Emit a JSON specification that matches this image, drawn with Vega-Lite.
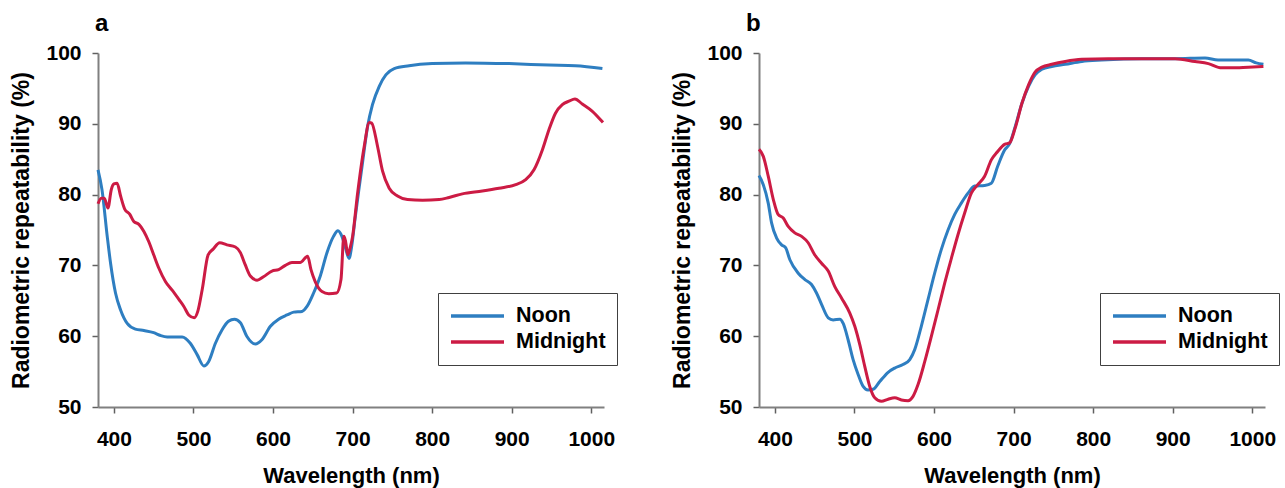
{
  "$schema": "https://vega.github.io/schema/vega-lite/v6.json",
  "background": "white",
  "padding": {"left": 10, "top": 12, "right": 5, "bottom": 5},
  "config": {
    "font": "Liberation Sans",
    "view": {"stroke": null},
    "axis": {
      "grid": false,
      "labelFont": "Liberation Sans",
      "labelFontSize": 21,
      "labelFontWeight": "bold",
      "labelColor": "black",
      "titleFont": "Liberation Sans",
      "titleFontSize": 22,
      "titleFontWeight": "bold",
      "titleColor": "black",
      "domainColor": "#808080",
      "domainWidth": 2,
      "tickColor": "#606060",
      "tickWidth": 1.5,
      "tickSize": 6
    },
    "axisX": {"labelPadding": 15, "titlePadding": 16, "format": "d"},
    "axisY": {"labelPadding": 11, "titlePadding": 12, "titleFontSize": 23},
    "legend": {
      "orient": "none",
      "legendX": 340,
      "legendY": 240,
      "title": null,
      "strokeColor": "#404040",
      "fillColor": "white",
      "padding": 11,
      "symbolType": "stroke",
      "symbolSize": 2809,
      "symbolStrokeWidth": 3.5,
      "clipHeight": 24,
      "rowPadding": 2,
      "labelFont": "Liberation Sans",
      "labelFontSize": 21.5,
      "labelFontWeight": "bold",
      "labelColor": "black",
      "labelOffset": 10
    }
  },
  "datasets": {
    "a": [
      {"series": "Noon", "wl": 380, "val": 83.5},
      {"series": "Noon", "wl": 385, "val": 80.7},
      {"series": "Noon", "wl": 391.6, "val": 74.1},
      {"series": "Noon", "wl": 395.8, "val": 70.3},
      {"series": "Noon", "wl": 402, "val": 66.1},
      {"series": "Noon", "wl": 408.4, "val": 63.7},
      {"series": "Noon", "wl": 416.7, "val": 61.8},
      {"series": "Noon", "wl": 427, "val": 61.0},
      {"series": "Noon", "wl": 437.7, "val": 60.8},
      {"series": "Noon", "wl": 450, "val": 60.5},
      {"series": "Noon", "wl": 458.6, "val": 60.1},
      {"series": "Noon", "wl": 467, "val": 59.9},
      {"series": "Noon", "wl": 485.8, "val": 59.9},
      {"series": "Noon", "wl": 496, "val": 59.0},
      {"series": "Noon", "wl": 504.6, "val": 57.4},
      {"series": "Noon", "wl": 513, "val": 55.8},
      {"series": "Noon", "wl": 519, "val": 56.4},
      {"series": "Noon", "wl": 527.6, "val": 59.0},
      {"series": "Noon", "wl": 536, "val": 60.9},
      {"series": "Noon", "wl": 544, "val": 62.1},
      {"series": "Noon", "wl": 551.5, "val": 62.4},
      {"series": "Noon", "wl": 559, "val": 61.9},
      {"series": "Noon", "wl": 567, "val": 60.0},
      {"series": "Noon", "wl": 577.8, "val": 58.9},
      {"series": "Noon", "wl": 586, "val": 59.5},
      {"series": "Noon", "wl": 596.7, "val": 61.4},
      {"series": "Noon", "wl": 607, "val": 62.4},
      {"series": "Noon", "wl": 617.6, "val": 63.0},
      {"series": "Noon", "wl": 626, "val": 63.4},
      {"series": "Noon", "wl": 636.4, "val": 63.5},
      {"series": "Noon", "wl": 642.7, "val": 64.2},
      {"series": "Noon", "wl": 651, "val": 66.1},
      {"series": "Noon", "wl": 659.4, "val": 68.5},
      {"series": "Noon", "wl": 667.8, "val": 71.8},
      {"series": "Noon", "wl": 676, "val": 74.1},
      {"series": "Noon", "wl": 681.6, "val": 74.9},
      {"series": "Noon", "wl": 686.6, "val": 74.1},
      {"series": "Noon", "wl": 691, "val": 72.5},
      {"series": "Noon", "wl": 695.5, "val": 71.0},
      {"series": "Noon", "wl": 699, "val": 72.8},
      {"series": "Noon", "wl": 703, "val": 76.5},
      {"series": "Noon", "wl": 708, "val": 80.8},
      {"series": "Noon", "wl": 712.6, "val": 84.6},
      {"series": "Noon", "wl": 718.8, "val": 89.6},
      {"series": "Noon", "wl": 725, "val": 92.7},
      {"series": "Noon", "wl": 733.5, "val": 95.3},
      {"series": "Noon", "wl": 741.8, "val": 96.9},
      {"series": "Noon", "wl": 752.3, "val": 97.8},
      {"series": "Noon", "wl": 771, "val": 98.2},
      {"series": "Noon", "wl": 800, "val": 98.5},
      {"series": "Noon", "wl": 842, "val": 98.6},
      {"series": "Noon", "wl": 896.7, "val": 98.5},
      {"series": "Noon", "wl": 946.9, "val": 98.3},
      {"series": "Noon", "wl": 980, "val": 98.2},
      {"series": "Noon", "wl": 1014, "val": 97.8},
      {"series": "Midnight", "wl": 380, "val": 78.7},
      {"series": "Midnight", "wl": 384, "val": 79.5},
      {"series": "Midnight", "wl": 388, "val": 79.5},
      {"series": "Midnight", "wl": 392.5, "val": 78.1},
      {"series": "Midnight", "wl": 396.7, "val": 80.7},
      {"series": "Midnight", "wl": 400, "val": 81.5},
      {"series": "Midnight", "wl": 404, "val": 81.6},
      {"series": "Midnight", "wl": 408.4, "val": 79.8},
      {"series": "Midnight", "wl": 413.4, "val": 78.0},
      {"series": "Midnight", "wl": 420, "val": 77.2},
      {"series": "Midnight", "wl": 425, "val": 76.2},
      {"series": "Midnight", "wl": 431.4, "val": 75.8},
      {"series": "Midnight", "wl": 437.7, "val": 74.8},
      {"series": "Midnight", "wl": 444, "val": 73.3},
      {"series": "Midnight", "wl": 450, "val": 71.5},
      {"series": "Midnight", "wl": 456.5, "val": 69.6},
      {"series": "Midnight", "wl": 464.9, "val": 67.7},
      {"series": "Midnight", "wl": 473.2, "val": 66.5},
      {"series": "Midnight", "wl": 481.6, "val": 65.2},
      {"series": "Midnight", "wl": 487.9, "val": 64.2},
      {"series": "Midnight", "wl": 494, "val": 63.0},
      {"series": "Midnight", "wl": 501, "val": 62.6},
      {"series": "Midnight", "wl": 505.4, "val": 63.5},
      {"series": "Midnight", "wl": 511, "val": 66.6},
      {"series": "Midnight", "wl": 518.4, "val": 71.5},
      {"series": "Midnight", "wl": 524.7, "val": 72.3},
      {"series": "Midnight", "wl": 533, "val": 73.2},
      {"series": "Midnight", "wl": 542, "val": 72.9},
      {"series": "Midnight", "wl": 552.7, "val": 72.6},
      {"series": "Midnight", "wl": 559, "val": 71.8},
      {"series": "Midnight", "wl": 565, "val": 70.1},
      {"series": "Midnight", "wl": 571.5, "val": 68.5},
      {"series": "Midnight", "wl": 580, "val": 67.9},
      {"series": "Midnight", "wl": 588, "val": 68.4},
      {"series": "Midnight", "wl": 598.7, "val": 69.2},
      {"series": "Midnight", "wl": 607, "val": 69.4},
      {"series": "Midnight", "wl": 615.5, "val": 70.0},
      {"series": "Midnight", "wl": 623.8, "val": 70.4},
      {"series": "Midnight", "wl": 634, "val": 70.4},
      {"series": "Midnight", "wl": 643.5, "val": 71.3},
      {"series": "Midnight", "wl": 647.7, "val": 69.4},
      {"series": "Midnight", "wl": 653, "val": 67.7},
      {"series": "Midnight", "wl": 661.5, "val": 66.3},
      {"series": "Midnight", "wl": 670, "val": 66.0},
      {"series": "Midnight", "wl": 680, "val": 66.1},
      {"series": "Midnight", "wl": 685.4, "val": 68.0},
      {"series": "Midnight", "wl": 689, "val": 74.1},
      {"series": "Midnight", "wl": 691, "val": 73.5},
      {"series": "Midnight", "wl": 694, "val": 71.5},
      {"series": "Midnight", "wl": 697, "val": 72.5},
      {"series": "Midnight", "wl": 700, "val": 74.1},
      {"series": "Midnight", "wl": 706.3, "val": 80.2},
      {"series": "Midnight", "wl": 714.6, "val": 86.8},
      {"series": "Midnight", "wl": 721, "val": 90.2},
      {"series": "Midnight", "wl": 724, "val": 90.1},
      {"series": "Midnight", "wl": 731.4, "val": 86.8},
      {"series": "Midnight", "wl": 737.7, "val": 83.3},
      {"series": "Midnight", "wl": 746, "val": 80.9},
      {"series": "Midnight", "wl": 756.5, "val": 79.8},
      {"series": "Midnight", "wl": 769, "val": 79.3},
      {"series": "Midnight", "wl": 787.9, "val": 79.2},
      {"series": "Midnight", "wl": 808.8, "val": 79.3},
      {"series": "Midnight", "wl": 821.3, "val": 79.6},
      {"series": "Midnight", "wl": 838, "val": 80.1},
      {"series": "Midnight", "wl": 863, "val": 80.5},
      {"series": "Midnight", "wl": 884, "val": 80.9},
      {"series": "Midnight", "wl": 905, "val": 81.4},
      {"series": "Midnight", "wl": 917.6, "val": 82.1},
      {"series": "Midnight", "wl": 928, "val": 83.5},
      {"series": "Midnight", "wl": 938.5, "val": 86.3},
      {"series": "Midnight", "wl": 946.9, "val": 89.2},
      {"series": "Midnight", "wl": 955, "val": 91.5},
      {"series": "Midnight", "wl": 963.6, "val": 92.7},
      {"series": "Midnight", "wl": 972, "val": 93.2},
      {"series": "Midnight", "wl": 979.5, "val": 93.5},
      {"series": "Midnight", "wl": 988.7, "val": 92.8},
      {"series": "Midnight", "wl": 1001, "val": 91.8},
      {"series": "Midnight", "wl": 1014.6, "val": 90.2}
    ],
    "b": [
      {"series": "Noon", "wl": 380, "val": 82.7},
      {"series": "Noon", "wl": 385.4, "val": 81.4},
      {"series": "Noon", "wl": 391.6, "val": 78.8},
      {"series": "Noon", "wl": 395.8, "val": 76.0},
      {"series": "Noon", "wl": 402, "val": 73.9},
      {"series": "Noon", "wl": 408.4, "val": 72.9},
      {"series": "Noon", "wl": 413.4, "val": 72.5},
      {"series": "Noon", "wl": 418.8, "val": 70.8},
      {"series": "Noon", "wl": 429.3, "val": 68.9},
      {"series": "Noon", "wl": 437.7, "val": 68.0},
      {"series": "Noon", "wl": 446, "val": 67.3},
      {"series": "Noon", "wl": 452.3, "val": 66.1},
      {"series": "Noon", "wl": 458.6, "val": 64.5},
      {"series": "Noon", "wl": 467, "val": 62.6},
      {"series": "Noon", "wl": 473.2, "val": 62.3},
      {"series": "Noon", "wl": 481.6, "val": 62.4},
      {"series": "Noon", "wl": 485.8, "val": 61.8},
      {"series": "Noon", "wl": 492, "val": 59.5},
      {"series": "Noon", "wl": 498.3, "val": 56.7},
      {"series": "Noon", "wl": 504.6, "val": 54.6},
      {"series": "Noon", "wl": 510.9, "val": 52.9},
      {"series": "Noon", "wl": 517, "val": 52.4},
      {"series": "Noon", "wl": 523.4, "val": 52.5},
      {"series": "Noon", "wl": 531.8, "val": 53.6},
      {"series": "Noon", "wl": 542.3, "val": 54.9},
      {"series": "Noon", "wl": 550.6, "val": 55.5},
      {"series": "Noon", "wl": 561, "val": 56.0},
      {"series": "Noon", "wl": 569.5, "val": 56.7},
      {"series": "Noon", "wl": 575.7, "val": 58.1},
      {"series": "Noon", "wl": 584, "val": 61.4},
      {"series": "Noon", "wl": 592.5, "val": 65.2},
      {"series": "Noon", "wl": 600.8, "val": 68.9},
      {"series": "Noon", "wl": 609, "val": 72.2},
      {"series": "Noon", "wl": 617.6, "val": 75.0},
      {"series": "Noon", "wl": 626, "val": 77.2},
      {"series": "Noon", "wl": 634.3, "val": 78.8},
      {"series": "Noon", "wl": 642.7, "val": 80.2},
      {"series": "Noon", "wl": 651, "val": 81.2},
      {"series": "Noon", "wl": 663.6, "val": 81.3},
      {"series": "Noon", "wl": 672, "val": 81.6},
      {"series": "Noon", "wl": 680, "val": 84.0},
      {"series": "Noon", "wl": 688.7, "val": 86.3},
      {"series": "Noon", "wl": 695, "val": 87.2},
      {"series": "Noon", "wl": 702, "val": 89.6},
      {"series": "Noon", "wl": 710.5, "val": 92.9},
      {"series": "Noon", "wl": 718.8, "val": 95.3},
      {"series": "Noon", "wl": 727, "val": 96.9},
      {"series": "Noon", "wl": 735.6, "val": 97.7},
      {"series": "Noon", "wl": 748, "val": 98.1},
      {"series": "Noon", "wl": 764.9, "val": 98.4},
      {"series": "Noon", "wl": 785.8, "val": 98.8},
      {"series": "Noon", "wl": 810.9, "val": 99.0},
      {"series": "Noon", "wl": 861, "val": 99.2},
      {"series": "Noon", "wl": 903, "val": 99.2},
      {"series": "Noon", "wl": 940.6, "val": 99.3},
      {"series": "Noon", "wl": 957, "val": 99.0},
      {"series": "Noon", "wl": 978, "val": 99.0},
      {"series": "Noon", "wl": 995, "val": 99.0},
      {"series": "Noon", "wl": 1005, "val": 98.6},
      {"series": "Noon", "wl": 1014, "val": 98.4},
      {"series": "Midnight", "wl": 380, "val": 86.4},
      {"series": "Midnight", "wl": 385.4, "val": 85.4},
      {"series": "Midnight", "wl": 391.6, "val": 82.6},
      {"series": "Midnight", "wl": 398, "val": 79.3},
      {"series": "Midnight", "wl": 404, "val": 77.2},
      {"series": "Midnight", "wl": 410.5, "val": 76.7},
      {"series": "Midnight", "wl": 416.7, "val": 75.5},
      {"series": "Midnight", "wl": 425, "val": 74.6},
      {"series": "Midnight", "wl": 433.5, "val": 74.1},
      {"series": "Midnight", "wl": 441.8, "val": 73.2},
      {"series": "Midnight", "wl": 450, "val": 71.5},
      {"series": "Midnight", "wl": 458.6, "val": 70.3},
      {"series": "Midnight", "wl": 467, "val": 69.2},
      {"series": "Midnight", "wl": 475.3, "val": 67.0},
      {"series": "Midnight", "wl": 483.7, "val": 65.4},
      {"series": "Midnight", "wl": 494, "val": 63.3},
      {"series": "Midnight", "wl": 500.4, "val": 61.4},
      {"series": "Midnight", "wl": 506.7, "val": 58.8},
      {"series": "Midnight", "wl": 513, "val": 55.7},
      {"series": "Midnight", "wl": 519.2, "val": 52.9},
      {"series": "Midnight", "wl": 525.5, "val": 51.3},
      {"series": "Midnight", "wl": 533.9, "val": 50.8},
      {"series": "Midnight", "wl": 542.3, "val": 51.1},
      {"series": "Midnight", "wl": 550.6, "val": 51.3},
      {"series": "Midnight", "wl": 559, "val": 51.0},
      {"series": "Midnight", "wl": 567.4, "val": 50.9},
      {"series": "Midnight", "wl": 573.6, "val": 51.5},
      {"series": "Midnight", "wl": 580, "val": 53.2},
      {"series": "Midnight", "wl": 588.3, "val": 56.4},
      {"series": "Midnight", "wl": 596.7, "val": 60.0},
      {"series": "Midnight", "wl": 605, "val": 63.7},
      {"series": "Midnight", "wl": 613.4, "val": 67.5},
      {"series": "Midnight", "wl": 621.8, "val": 71.0},
      {"series": "Midnight", "wl": 630, "val": 74.3},
      {"series": "Midnight", "wl": 638.5, "val": 77.4},
      {"series": "Midnight", "wl": 646.9, "val": 80.2},
      {"series": "Midnight", "wl": 655, "val": 81.4},
      {"series": "Midnight", "wl": 663.6, "val": 82.6},
      {"series": "Midnight", "wl": 672, "val": 84.9},
      {"series": "Midnight", "wl": 680, "val": 86.1},
      {"series": "Midnight", "wl": 688.7, "val": 87.1},
      {"series": "Midnight", "wl": 695, "val": 87.3},
      {"series": "Midnight", "wl": 702, "val": 89.4},
      {"series": "Midnight", "wl": 710.5, "val": 92.9},
      {"series": "Midnight", "wl": 718.8, "val": 95.5},
      {"series": "Midnight", "wl": 727, "val": 97.3},
      {"series": "Midnight", "wl": 735.6, "val": 98.0},
      {"series": "Midnight", "wl": 748, "val": 98.4},
      {"series": "Midnight", "wl": 764.9, "val": 98.8},
      {"series": "Midnight", "wl": 785.8, "val": 99.1},
      {"series": "Midnight", "wl": 819, "val": 99.2},
      {"series": "Midnight", "wl": 861, "val": 99.2},
      {"series": "Midnight", "wl": 903, "val": 99.2},
      {"series": "Midnight", "wl": 928, "val": 98.8},
      {"series": "Midnight", "wl": 944.8, "val": 98.5},
      {"series": "Midnight", "wl": 961.5, "val": 97.9},
      {"series": "Midnight", "wl": 974, "val": 97.9},
      {"series": "Midnight", "wl": 995, "val": 98.0},
      {"series": "Midnight", "wl": 1014, "val": 98.1}
    ]
  },
  "spacing": 155,
  "bounds": "flush",
  "resolve": {"scale": {"color": "independent"}, "legend": {"color": "independent"}},
  "hconcat": [
    {
      "title": {"text": "a", "anchor": "start", "frame": "group", "fontSize": 24, "fontWeight": "bold", "font": "Liberation Sans", "color": "black", "baseline": "alphabetic", "offset": -13, "dx": -3},
      "width": 506,
      "height": 354,
      "data": {"name": "a"},
      "mark": {"type": "line", "strokeWidth": 3, "interpolate": "monotone"},
      "encoding": {
        "x": {"field": "wl", "type": "quantitative", "scale": {"domain": [380, 1016], "nice": false, "zero": false}, "axis": {"title": "Wavelength (nm)", "values": [400, 500, 600, 700, 800, 900, 1000]}},
        "y": {"field": "val", "type": "quantitative", "scale": {"domain": [50, 100], "nice": false, "zero": false}, "axis": {"title": "Radiometric repeatability (%)", "values": [50, 60, 70, 80, 90, 100]}},
        "color": {"field": "series", "type": "nominal", "sort": ["Noon", "Midnight"], "scale": {"domain": ["Noon", "Midnight"], "range": ["#2E7EC1", "#CC1B44"]}, "legend": {"legendX": 340, "legendY": 240}}
      }
    },
    {
      "title": {"text": "b", "anchor": "start", "frame": "group", "fontSize": 24, "fontWeight": "bold", "font": "Liberation Sans", "color": "black", "baseline": "alphabetic", "offset": -13, "dx": -13},
      "width": 506,
      "height": 354,
      "data": {"name": "b"},
      "mark": {"type": "line", "strokeWidth": 3, "interpolate": "monotone"},
      "encoding": {
        "x": {"field": "wl", "type": "quantitative", "scale": {"domain": [380, 1016], "nice": false, "zero": false}, "axis": {"title": "Wavelength (nm)", "values": [400, 500, 600, 700, 800, 900, 1000]}},
        "y": {"field": "val", "type": "quantitative", "scale": {"domain": [50, 100], "nice": false, "zero": false}, "axis": {"title": "Radiometric repeatability (%)", "values": [50, 60, 70, 80, 90, 100]}},
        "color": {"field": "series", "type": "nominal", "sort": ["Noon", "Midnight"], "scale": {"domain": ["Noon", "Midnight"], "range": ["#2E7EC1", "#CC1B44"]}, "legend": {"legendX": 341, "legendY": 240}}
      }
    }
  ]
}
